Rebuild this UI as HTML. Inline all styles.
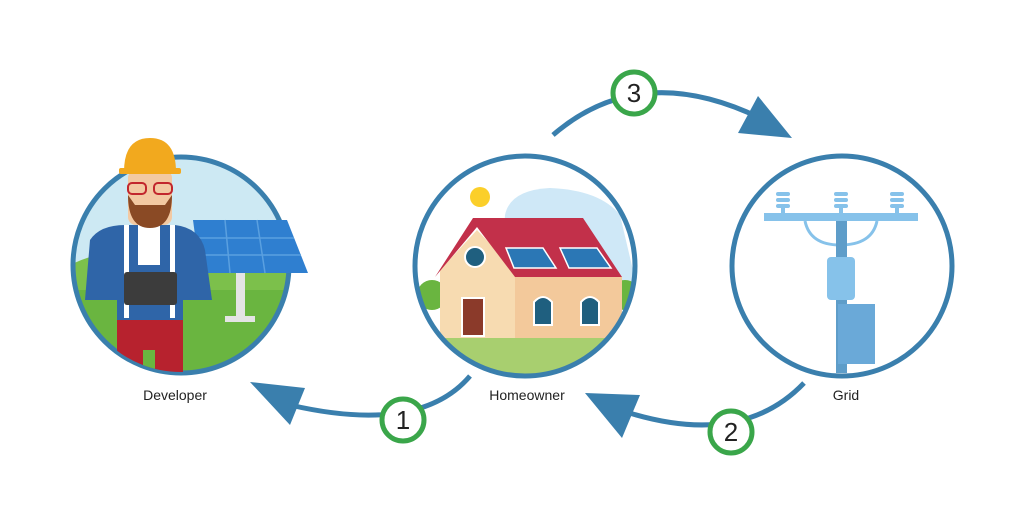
<!DOCTYPE html>
<html><head><style>
html,body{margin:0;padding:0;background:#fff;}
svg{display:block;}
text{font-family:"Liberation Sans",sans-serif;}
</style></head><body>
<svg width="1024" height="524" viewBox="0 0 1024 524" xmlns="http://www.w3.org/2000/svg">
<defs>
<clipPath id="c1"><circle cx="181" cy="265" r="107"/></clipPath>
<clipPath id="c2"><circle cx="525" cy="266" r="109"/></clipPath>
<clipPath id="c1b"><rect x="0" y="0" width="1024" height="265"/><circle cx="181" cy="265" r="107"/></clipPath>
</defs>
<!-- Developer -->
<g clip-path="url(#c1)">
<rect x="70" y="155" width="225" height="225" fill="#cde9f3"/>
<path d="M70 265 Q120 240 180 262 Q240 250 295 262 L295 380 L70 380Z" fill="#7cc04b"/>
<rect x="70" y="290" width="225" height="90" fill="#6ab540"/>
</g>
<circle cx="181" cy="265" r="108" fill="none" stroke="#3a7fad" stroke-width="5"/>
<polygon points="193,220 287,220 308,273 200,273" fill="#2f7fd0"/>
<g stroke="#5aa0e0" stroke-width="1.5"><line x1="196" y1="238" x2="294" y2="238"/><line x1="198" y1="255" x2="301" y2="255"/><line x1="225" y1="220" x2="230" y2="273"/><line x1="257" y1="220" x2="265" y2="273"/></g>
<rect x="236" y="273" width="9" height="45" fill="#e4e4e4"/><rect x="225" y="316" width="30" height="6" fill="#e4e4e4"/>
<!-- man -->
<g clip-path="url(#c1b)">
<path d="M117 318 L183 318 L183 380 L117 380Z" fill="#b7222e"/>
<rect x="143" y="350" width="12" height="30" fill="#6ab540"/>
</g>
<path d="M90 240 Q100 225 125 225 L175 225 Q200 228 205 250 L212 300 L183 300 L183 320 L117 320 L117 300 L85 300Z" fill="#2f65a8"/>
<rect x="124" y="225" width="5" height="93" fill="#fff"/><rect x="170" y="225" width="5" height="93" fill="#fff"/>
<rect x="138" y="225" width="22" height="40" fill="#fff"/>
<rect x="124" y="272" width="53" height="33" rx="3" fill="#3c3c3c"/>
<rect x="128" y="170" width="44" height="55" rx="8" fill="#f3c9a2"/>
<path d="M128 195 Q128 228 150 228 Q172 228 172 195 L165 205 L135 205Z" fill="#8a4a25"/>
<rect x="128" y="183" width="18" height="11" rx="4" fill="none" stroke="#c2272d" stroke-width="2"/>
<rect x="154" y="183" width="18" height="11" rx="4" fill="none" stroke="#c2272d" stroke-width="2"/>
<path d="M124 172 Q124 138 150 138 Q176 138 176 172Z" fill="#f2a91e"/>
<rect x="119" y="168" width="62" height="6" rx="2" fill="#f2a91e"/>
<!-- Homeowner -->
<g clip-path="url(#c2)">
<rect x="410" y="150" width="235" height="235" fill="#fff"/>
<path d="M505 215 Q510 190 550 188 Q600 190 620 215 L640 300 L500 300Z" fill="#cfe8f7"/>
<circle cx="432" cy="295" r="15" fill="#6ab540"/><circle cx="625" cy="295" r="15" fill="#6ab540"/>
<rect x="410" y="338" width="235" height="50" fill="#a8cf6f"/>
<polygon points="440,338 440,270 477,230 515,270 515,338" fill="#f7dbb1"/>
<rect x="515" y="277" width="107" height="61" fill="#f3c99b"/>
<polygon points="473,218 583,218 622,277 515,277 477,227 435,277" fill="#c2304a"/>
<circle cx="475" cy="257" r="10" fill="#1f5f7f" stroke="#fff" stroke-width="2"/>
<polygon points="506,248 543,248 556,268 514,268" fill="#2b77b5" stroke="#fff" stroke-width="1.5"/>
<polygon points="560,248 597,248 611,268 569,268" fill="#2b77b5" stroke="#fff" stroke-width="1.5"/>
<rect x="462" y="298" width="22" height="38" fill="#8b3a2a" stroke="#fff" stroke-width="2"/>
<path d="M534 325 L534 302 Q543 292 552 302 L552 325Z" fill="#1f5f7f" stroke="#fff" stroke-width="2"/>
<path d="M581 325 L581 302 Q590 292 599 302 L599 325Z" fill="#1f5f7f" stroke="#fff" stroke-width="2"/>
<circle cx="480" cy="197" r="10" fill="#fbcf2a"/>
</g>
<circle cx="525" cy="266" r="110" fill="none" stroke="#3a7fad" stroke-width="5"/>
<!-- Grid -->
<circle cx="842" cy="266" r="110" fill="none" stroke="#3a7fad" stroke-width="5"/>
<rect x="764" y="213" width="154" height="8" fill="#86c2ea"/>
<g fill="#86c2ea"><rect x="776" y="192" width="14" height="4" rx="2"/><rect x="776" y="198" width="14" height="4" rx="2"/><rect x="776" y="204" width="14" height="4" rx="2"/><rect x="781" y="207" width="4" height="7"/>
<rect x="834" y="192" width="14" height="4" rx="2"/><rect x="834" y="198" width="14" height="4" rx="2"/><rect x="834" y="204" width="14" height="4" rx="2"/><rect x="839" y="207" width="4" height="7"/>
<rect x="890" y="192" width="14" height="4" rx="2"/><rect x="890" y="198" width="14" height="4" rx="2"/><rect x="890" y="204" width="14" height="4" rx="2"/><rect x="895" y="207" width="4" height="7"/></g>
<path d="M805 221 Q810 245 840 245 Q872 245 877 221" fill="none" stroke="#86c2ea" stroke-width="3"/>
<rect x="836" y="221" width="11" height="152" fill="#5e9dc9"/>
<rect x="827" y="257" width="28" height="43" rx="4" fill="#86c2ea"/>
<rect x="838" y="304" width="37" height="60" fill="#6aa9d8"/>
<!-- arcs -->
<g fill="none" stroke="#3a7fad" stroke-width="5">
<path d="M470 376 Q420 435 290 405"/>
<path d="M804 383 Q740 450 620 410"/>
<path d="M553 135 Q640 60 760 118"/>
</g>
<g fill="#3a7fad">
<polygon points="250,382 305,388 290,425"/>
<polygon points="585,393 640,395 622,438"/>
<polygon points="792,138 738,133 758,96"/>
</g>
<g fill="#fff" stroke="#3aa64a" stroke-width="5">
<circle cx="403" cy="420" r="21"/><circle cx="731" cy="432" r="21"/><circle cx="634" cy="93" r="21"/>
</g>
<g font-size="26" fill="#222" text-anchor="middle">
<text x="403" y="429">1</text><text x="731" y="441">2</text><text x="634" y="102">3</text>
</g>
<g font-size="14" fill="#222" text-anchor="middle">
<text x="175" y="400">Developer</text><text x="527" y="400">Homeowner</text><text x="846" y="400">Grid</text>
</g>
</svg>
</body></html>
